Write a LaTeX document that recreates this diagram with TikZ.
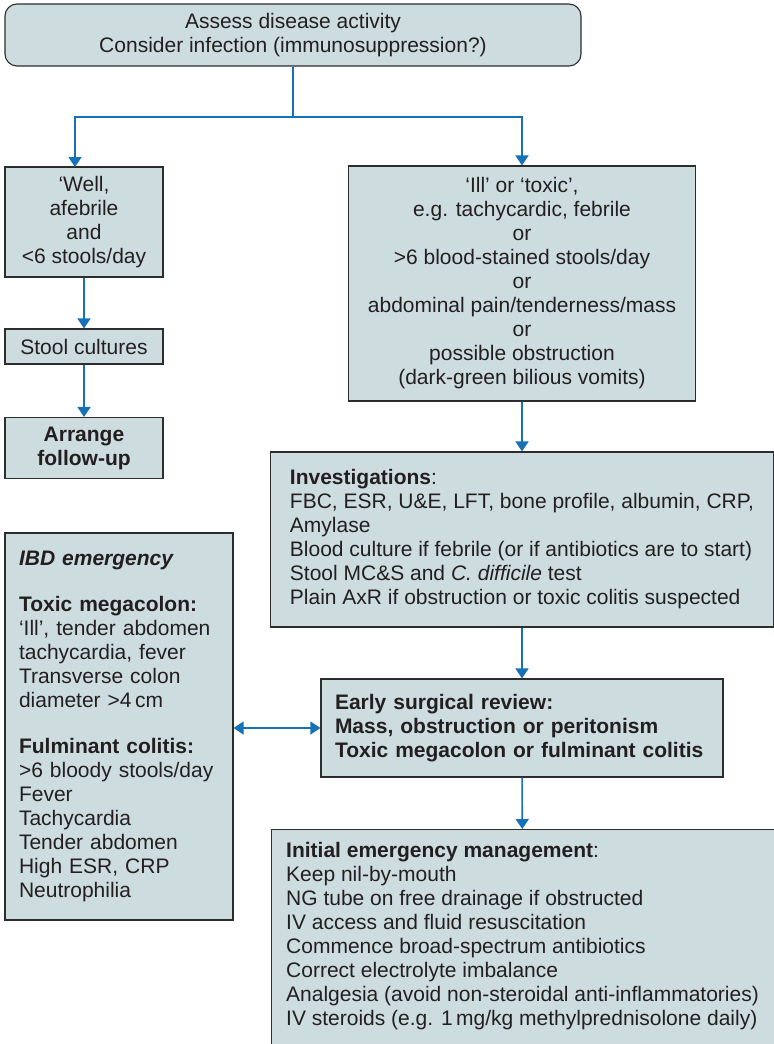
\documentclass[tikz,border=0pt]{standalone}
\usepackage{fontspec}
\setmainfont{Liberation Sans}
\usetikzlibrary{arrows.meta}

\definecolor{boxfill}{RGB}{205,220,223}
\definecolor{boxline}{RGB}{45,45,45}
\definecolor{flowblue}{RGB}{22,114,184}
\definecolor{ink}{RGB}{35,31,32}

\begin{document}
\begin{tikzpicture}[x=0.5pt, y=-0.5pt,
    box/.style={draw=boxline, fill=boxfill, line width=0.55pt, text=ink, inner sep=0pt,
                font=\fontsize{10.5}{12}\selectfont},
    cbox/.style={box, align=center},
    lbox/.style={box, align=left},
    flow/.style={draw=flowblue, line width=0.8pt, -{Triangle[width=6.5pt,length=5pt]}},
    both/.style={draw=flowblue, line width=0.8pt, {Triangle[width=6.5pt,length=5pt]}-{Triangle[width=6.5pt,length=5pt]}},
    link/.style={draw=flowblue, line width=0.8pt}]
        \useasboundingbox (0,0) rectangle (774,1044);
        \clip (0,0) rectangle (774,1044);

        % Boxes
        \node at (293,35) [cbox, rounded corners=6pt, minimum width=288pt, minimum height=31pt] (assess)
            {Assess disease activity\\Consider infection (immunosuppression?)};
        \node at (84,222) [cbox, minimum width=79pt, minimum height=55pt] (well)
            {‘Well,\\afebrile\\and\\<6 stools/day};
        \node at (84,346.5) [cbox, minimum width=79pt, minimum height=17.5pt] (stool) {Stool cultures};
        \node at (84,448) [cbox, minimum width=79pt, minimum height=30.5pt, font=\fontsize{10.5}{12}\selectfont\bfseries] (arrange)
            {Arrange\\follow-up};
        \node at (522,283.5) [cbox, minimum width=173.5pt, minimum height=117.5pt] (ill)
            {‘Ill’ or ‘toxic’,\\e.g. tachycardic, febrile\\or\\>6 blood-stained stools/day\\or\\
             abdominal pain/tenderness/mass\\or\\possible obstruction\\(dark-green bilious vomits)};
        \node at (522,539.5) [lbox, inner xsep=6.75pt, minimum width=251.5pt, minimum height=87.5pt] (invest)
            {\textbf{Investigations}:\\FBC, ESR, U\&E, LFT, bone profile, albumin, CRP,\\Amylase\\
             Blood culture if febrile (or if antibiotics are to start)\\
             Stool MC\&S and \textit{C. difficile} test\\
             Plain AxR if obstruction or toxic colitis suspected};
        \node at (119,726.5) [lbox, text width=100pt, inner xsep=7pt, minimum height=193.5pt] (ibd)
            {\textbf{\textit{IBD emergency}}\\[11pt]
             \textbf{Toxic megacolon:}\\‘Ill’, tender abdomen\\tachycardia, fever\\Transverse colon\\diameter >4\,cm\\[11pt]
             \textbf{Fulminant colitis:}\\>6 bloody stools/day\\Fever\\Tachycardia\\Tender abdomen\\High ESR, CRP\\Neutrophilia};
        \node at (522,728) [lbox, text width=187pt, inner xsep=7pt, minimum height=49pt, font=\fontsize{10.5}{12}\selectfont\bfseries] (early)
            {Early surgical review:\\Mass, obstruction or peritonism\\Toxic megacolon or fulminant colitis};
        \node at (270.5,829) [lbox, anchor=north west, inner xsep=6.75pt, inner ysep=6.5pt, minimum width=251.5pt] (initial)
            {\textbf{Initial emergency management}:\\Keep nil-by-mouth\\NG tube on free drainage if obstructed\\
             IV access and fluid resuscitation\\Commence broad-spectrum antibiotics\\Correct electrolyte imbalance\\
             Analgesia (avoid non-steroidal anti-inflammatories)\\
             IV steroids (e.g. 1\,mg/kg methylprednisolone daily)\rule[-15pt]{0pt}{0pt}};

        \coordinate (fork) at (293,117);
        \coordinate (welltop) at (75,167);

        % Arrows
        \draw[link] (assess.south) -- (fork);
        \draw[flow] (fork) -| (welltop);
        \draw[flow] (fork) -| (ill.north);
        \draw[flow] (well) -- (stool);
        \draw[flow] (stool) -- (arrange);
        \draw[flow] (ill) -- (invest);
        \draw[flow] (invest) -- (early);
        \draw[flow] (early) -- (initial);
        \draw[both] (ibd.east |- early.west) -- (early.west);

\end{tikzpicture}
\end{document}
